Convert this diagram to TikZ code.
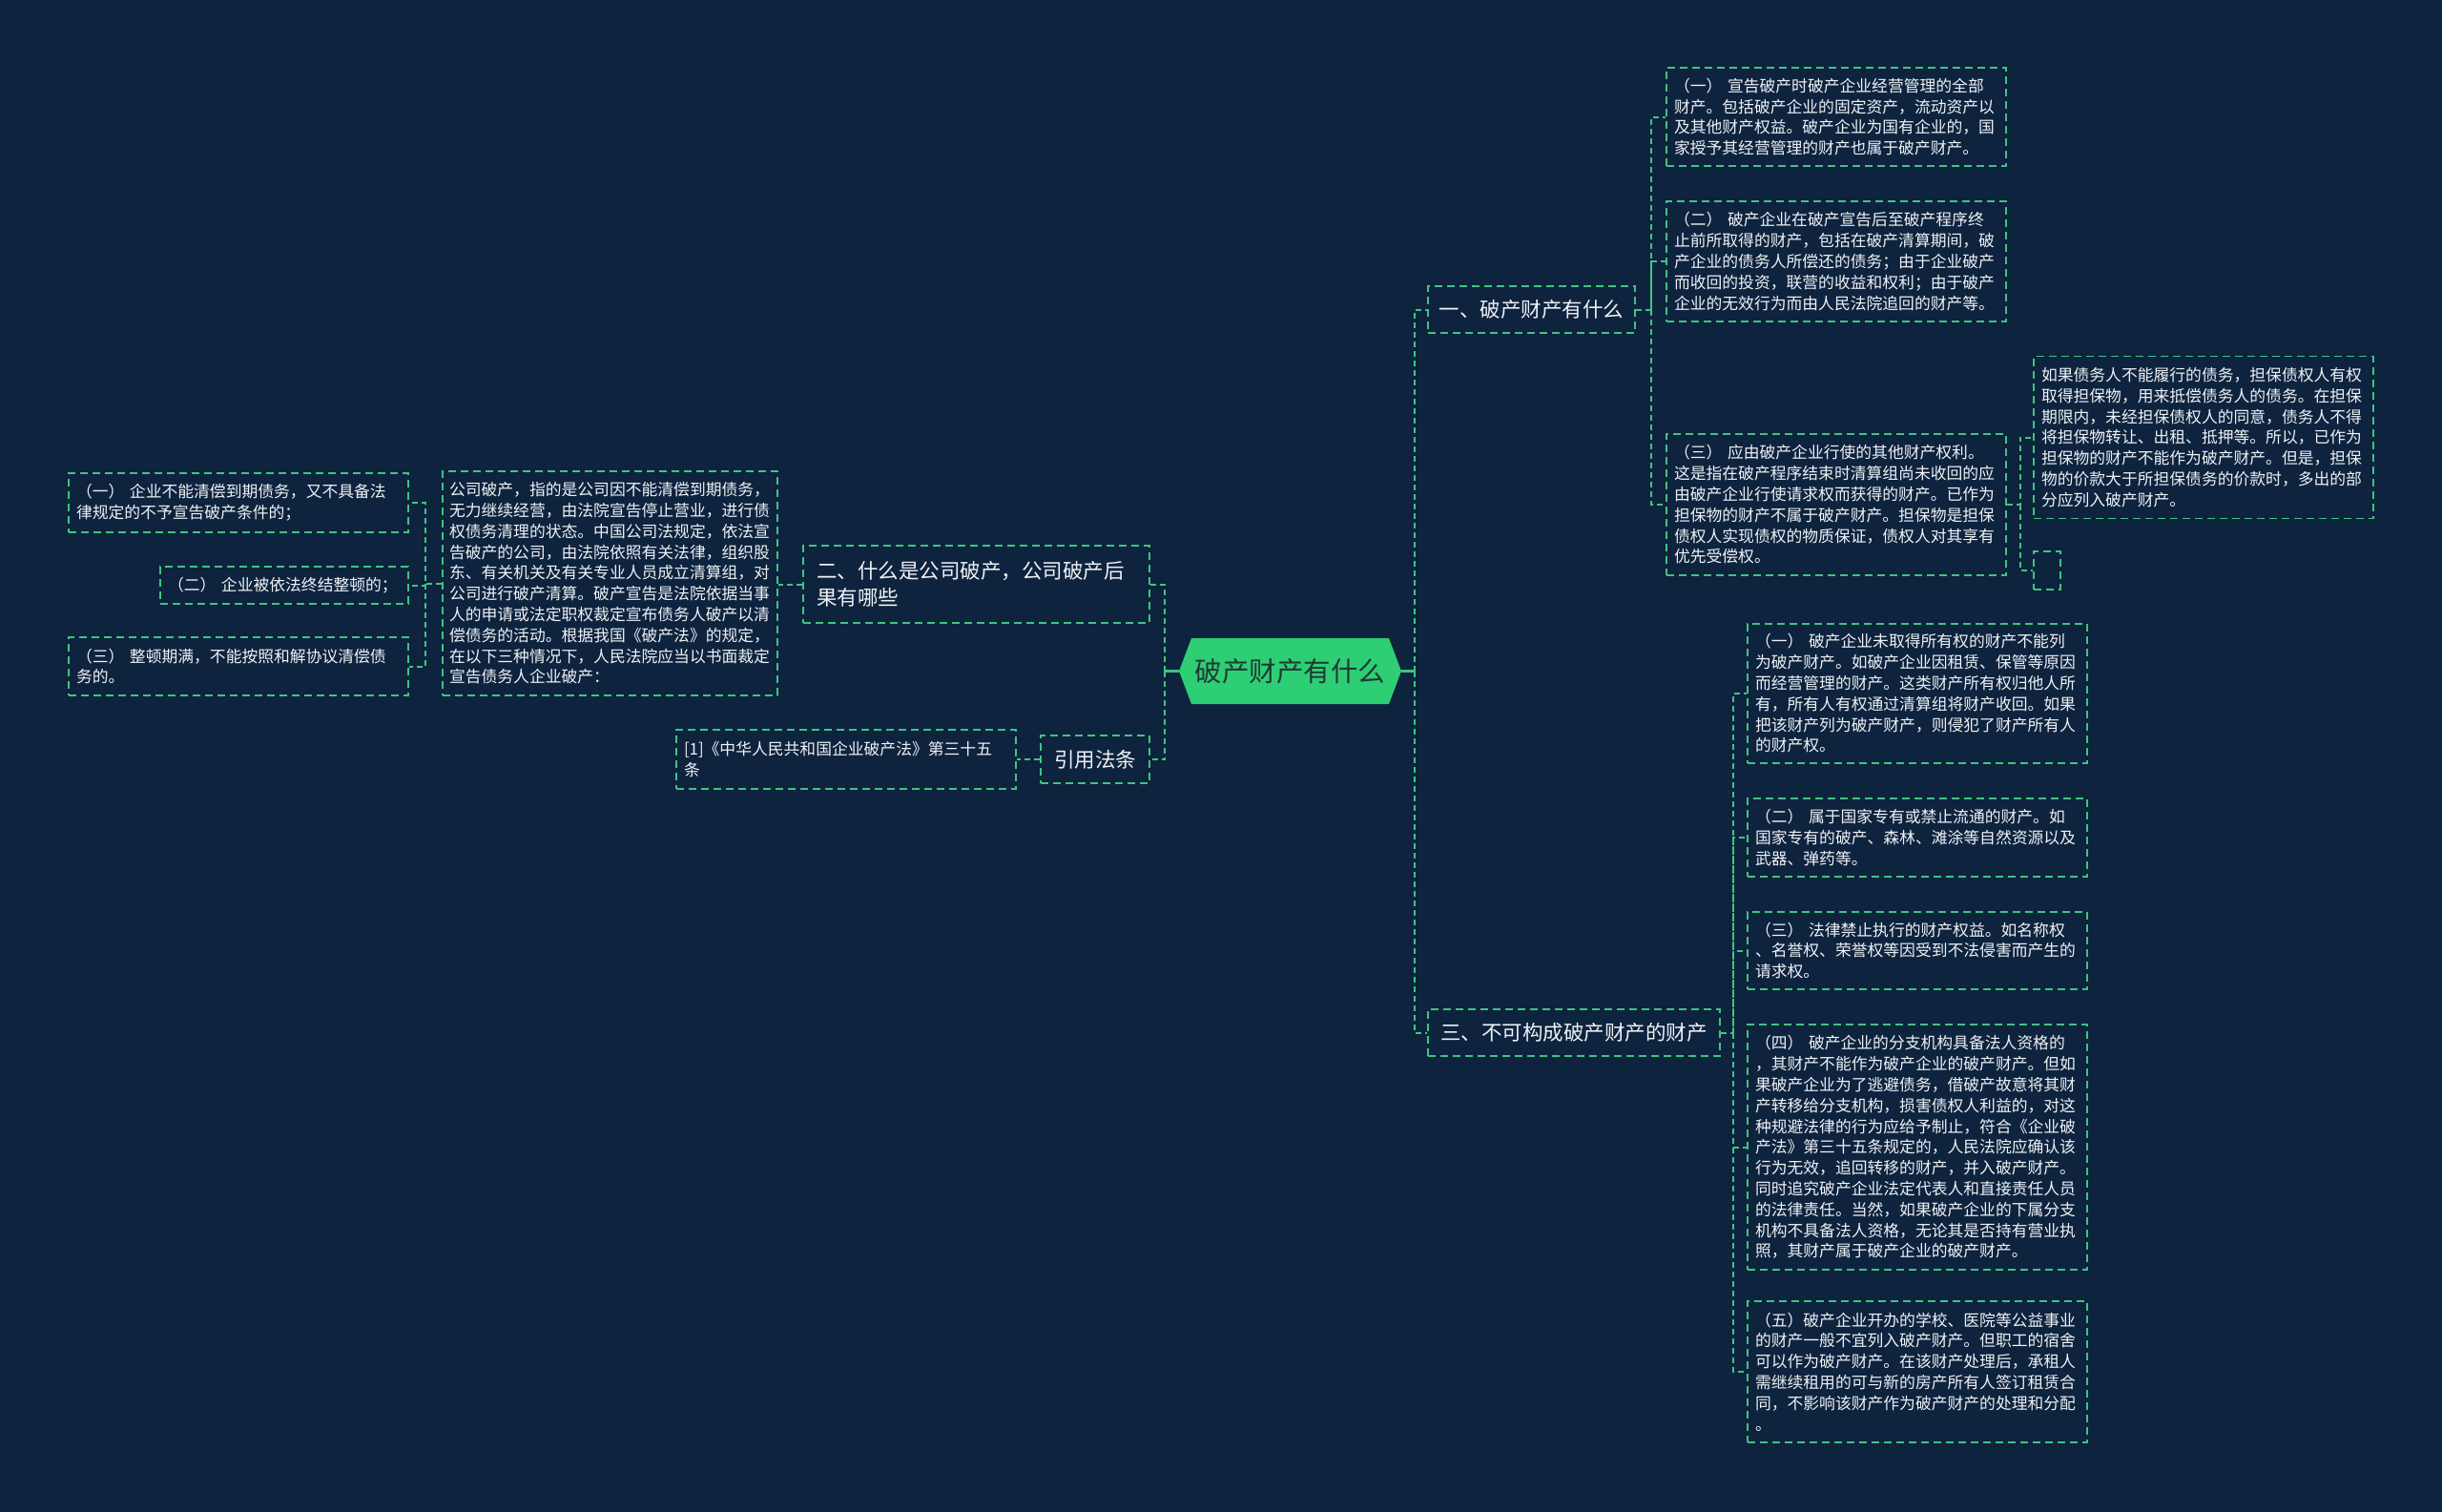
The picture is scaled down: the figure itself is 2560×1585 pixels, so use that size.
\documentclass[tikz,border=0pt]{standalone}
\usepackage{fontspec}
\setmainfont{Noto Sans CJK SC}
\definecolor{bg}{RGB}{14,35,62}
\definecolor{lineg}{RGB}{64,196,128}
\definecolor{hexg}{RGB}{46,206,116}
\definecolor{txt}{RGB}{238,242,246}
\definecolor{hext}{RGB}{30,58,50}
\tikzset{
  box/.style={draw=lineg, line width=1.8pt, dash pattern=on 8pt off 5pt, text=txt, inner ysep=0pt},
  leaf/.style={box, inner xsep=8pt, text width=340pt, align=left, font=\fontsize{16.8pt}{21.8pt}\selectfont},
  branch/.style={box, inner xsep=0pt, align=center, minimum height=49pt, font=\fontsize{21.5pt}{27.8pt}\selectfont},
  link/.style={draw=lineg, line width=2pt, dash pattern=on 6pt off 4pt},
  stem/.style={draw=lineg, line width=3pt},
}
\begin{document}
\begin{tikzpicture}[x=1pt,y=-1pt]
\fill[bg] (0,0) rectangle (2560,1585);
\useasboundingbox (0,0) rectangle (2560,1585);

% center hexagon
\fill[hexg] (1236,703.5) -- (1249,669) -- (1456,669) -- (1469,703.5) -- (1456,738) -- (1249,738) -- cycle;
\node[inner sep=0pt, minimum width=233pt, minimum height=69pt, text=hext, font=\fontsize{28.5pt}{34pt}\selectfont] (c) at (1352.5,703.5) {破产财产有什么};

% branches
\node[branch, minimum width=217pt] (b1) at (1605.5,324.5) {一、破产财产有什么};
\node[branch, minimum width=306pt] (b3) at (1650,1082.5) {三、不可构成破产财产的财产};
\node[box, inner xsep=14pt, text width=335pt, align=left, minimum height=81pt, font=\fontsize{21.5pt}{27.8pt}\selectfont] (b2) at (1023.5,612.5) {二、什么是公司破产，公司破产后\\果有哪些};
\node[branch, minimum width=114pt, minimum height=50pt] (b4) at (1148,796) {引用法条};

% right branch 1 leaves
\node[leaf, minimum height=103pt] (r11) at (1925,122.5) {（一）~宣告破产时破产企业经营管理的全部\\财产。包括破产企业的固定资产，流动资产以\\及其他财产权益。破产企业为国有企业的，国\\家授予其经营管理的财产也属于破产财产。};
\node[leaf, minimum height=126pt] (r12) at (1925,274) {（二）~破产企业在破产宣告后至破产程序终\\止前所取得的财产，包括在破产清算期间，破\\产企业的债务人所偿还的债务；由于企业破产\\而收回的投资，联营的收益和权利；由于破产\\企业的无效行为而由人民法院追回的财产等。};
\node[leaf, minimum height=148pt] (r13) at (1925,529) {（三）~应由破产企业行使的其他财产权利。\\这是指在破产程序结束时清算组尚未收回的应\\由破产企业行使请求权而获得的财产。已作为\\担保物的财产不属于破产财产。担保物是担保\\债权人实现债权的物质保证，债权人对其享有\\优先受偿权。};
\node[leaf, minimum height=170pt] (r13a) at (2310,458.5) {如果债务人不能履行的债务，担保债权人有权\\取得担保物，用来抵偿债务人的债务。在担保\\期限内，未经担保债权人的同意，债务人不得\\将担保物转让、出租、抵押等。所以，已作为\\担保物的财产不能作为破产财产。但是，担保\\物的价款大于所担保债务的价款时，多出的部\\分应列入破产财产。};
\node[box, inner sep=0pt, minimum width=28pt, minimum height=40pt] (r13b) at (2146,598) {};

% right branch 3 leaves
\node[leaf, minimum height=146pt] (r31) at (2010,727) {（一）~破产企业未取得所有权的财产不能列\\为破产财产。如破产企业因租赁、保管等原因\\而经营管理的财产。这类财产所有权归他人所\\有，所有人有权通过清算组将财产收回。如果\\把该财产列为破产财产，则侵犯了财产所有人\\的财产权。};
\node[leaf, minimum height=82pt] (r32) at (2010,878) {（二）~属于国家专有或禁止流通的财产。如\\国家专有的破产、森林、滩涂等自然资源以及\\武器、弹药等。};
\node[leaf, minimum height=81pt] (r33) at (2010,996.5) {（三）~法律禁止执行的财产权益。如名称权\\、名誉权、荣誉权等因受到不法侵害而产生的\\请求权。};
\node[leaf, minimum height=257pt] (r34) at (2010,1202.5) {（四）~破产企业的分支机构具备法人资格的\\，其财产不能作为破产企业的破产财产。但如\\果破产企业为了逃避债务，借破产故意将其财\\产转移给分支机构，损害债权人利益的，对这\\种规避法律的行为应给予制止，符合《企业破\\产法》第三十五条规定的，人民法院应确认该\\行为无效，追回转移的财产，并入破产财产。\\同时追究破产企业法定代表人和直接责任人员\\的法律责任。当然，如果破产企业的下属分支\\机构不具备法人资格，无论其是否持有营业执\\照，其财产属于破产企业的破产财产。};
\node[leaf, minimum height=148pt] (r35) at (2010,1438) {（五）破产企业开办的学校、医院等公益事业\\的财产一般不宜列入破产财产。但职工的宿舍\\可以作为破产财产。在该财产处理后，承租人\\需继续租用的可与新的房产所有人签订租赁合\\同，不影响该财产作为破产财产的处理和分配\\。};

% left branch leaves
\node[leaf, inner xsep=7pt, text width=337pt, minimum height=235pt] (lb) at (639.5,611.5) {公司破产，指的是公司因不能清偿到期债务，\\无力继续经营，由法院宣告停止营业，进行债\\权债务清理的状态。中国公司法规定，依法宣\\告破产的公司，由法院依照有关法律，组织股\\东、有关机关及有关专业人员成立清算组，对\\公司进行破产清算。破产宣告是法院依据当事\\人的申请或法定职权裁定宣布债务人破产以清\\偿债务的活动。根据我国《破产法》的规定，\\在以下三种情况下，人民法院应当以书面裁定\\宣告债务人企业破产：};
\node[leaf, minimum height=62pt] (l1) at (250,527) {（一）~企业不能清偿到期债务，又不具备法\\律规定的不予宣告破产条件的；};
\node[leaf, text width=244pt, minimum height=39pt] (l2) at (298,613.5) {（二）~企业被依法终结整顿的；};
\node[leaf, minimum height=61pt] (l3) at (250,698.5) {（三）~整顿期满，不能按照和解协议清偿债\\务的。};
\node[leaf, minimum height=62pt] (ref) at (887,796) {[1]《中华人民共和国企业破产法》第三十五\\条};

% connectors
\coordinate (tR) at (1483,703.5);
\coordinate (tL) at (1221,703.5);
\draw[stem] (c.east) -- (tR);
\draw[stem] (c.west) -- (tL);
\draw[link] (tR) |- (b1.west);
\draw[link] (tR) |- (b3.west);
\draw[link] (tL) |- (b2.east);
\draw[link] (tL) |- (b4.east);

\coordinate (t1) at (1731,324.5);
\draw[link] (b1.east) -- (t1) |- (r11.west);
\draw[link] (t1) |- (r12.west);
\draw[link] (t1) |- (r13.west);

\coordinate (t13) at (2118,529);
\draw[link] (r13.east) -- (t13) |- (r13a.west);
\draw[link] (t13) |- (r13b.west);

\coordinate (t3) at (1817,1082.5);
\draw[link] (b3.east) -- (t3) |- (r31.west);
\draw[link] (t3) |- (r32.west);
\draw[link] (t3) |- (r33.west);
\draw[link] (t3) |- (r34.west);
\draw[link] (t3) |- (r35.west);

\draw[link] (b2.west) -- (lb.east |- b2.west);
\coordinate (tlb) at (446,611.5);
\draw[link] (lb.west) -- (tlb) |- (l1.east);
\draw[link] (tlb) |- (l2.east);
\draw[link] (tlb) |- (l3.east);

\draw[link] (b4.west) -- (ref.east);
\end{tikzpicture}
\end{document}
